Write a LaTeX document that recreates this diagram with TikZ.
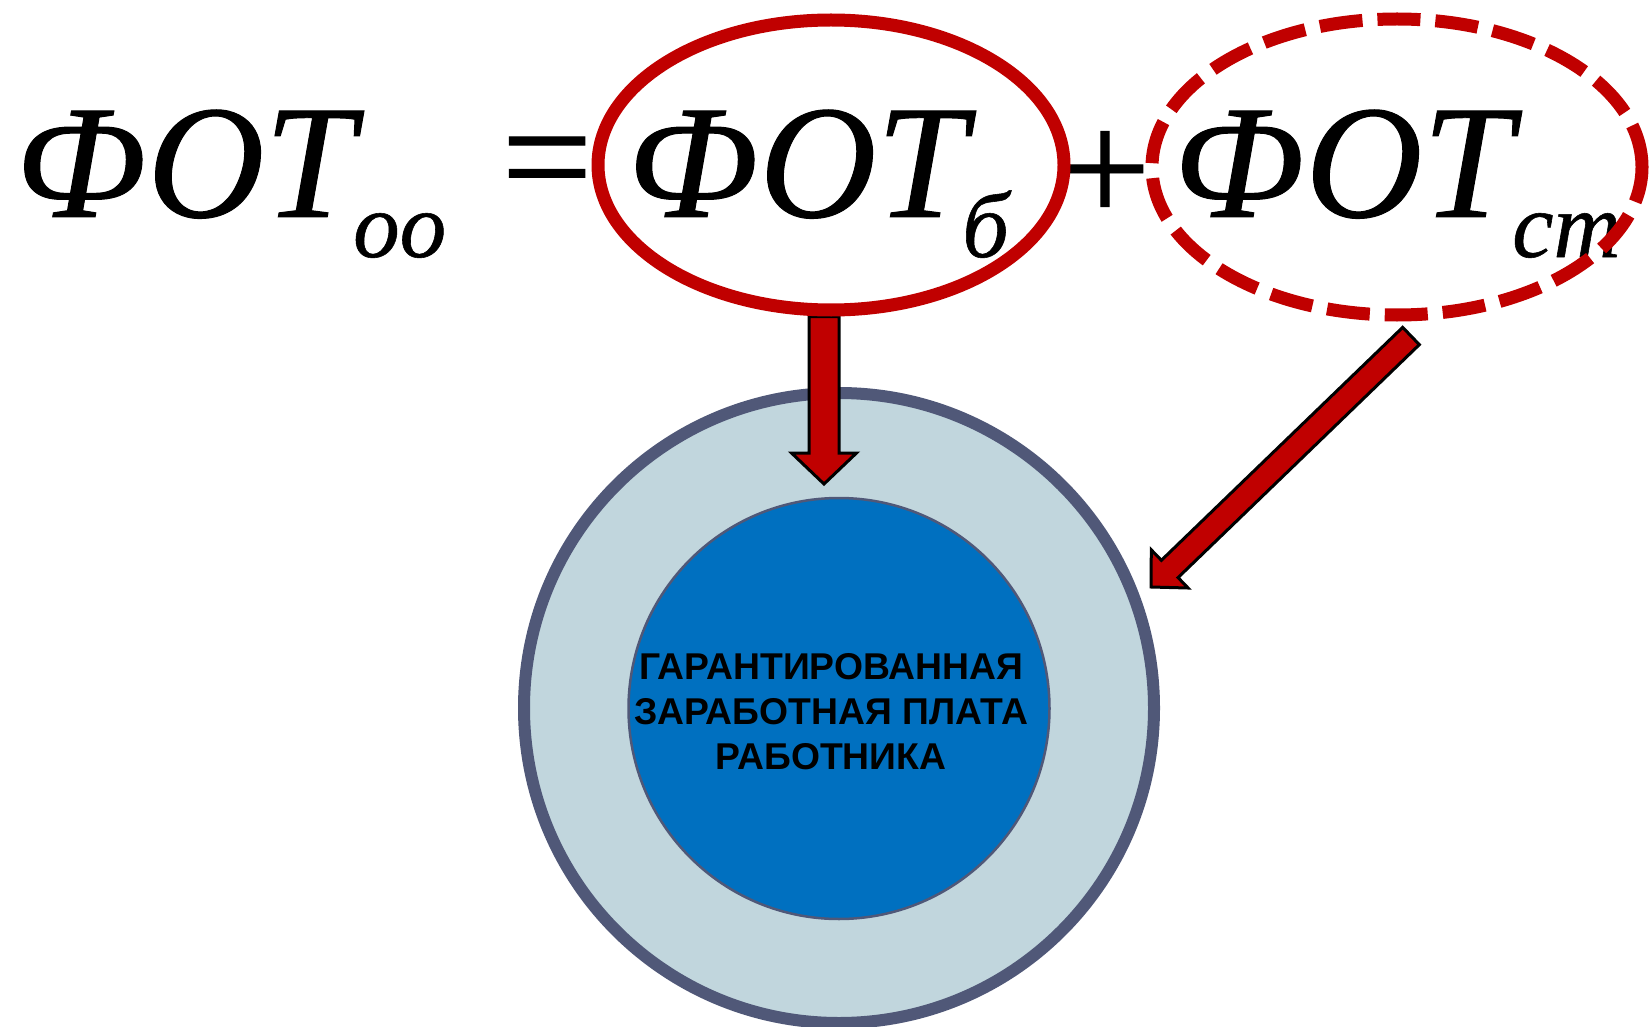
\documentclass[tikz,border=0pt]{standalone}
\usepackage{fontspec}
\setmainfont{Liberation Serif}
\newfontfamily\formulafont[FakeBold=0.6]{Liberation Serif}
\newfontfamily\capsfont{Liberation Sans}
\usetikzlibrary{shapes.geometric,calc}
\pgfdeclarelayer{front}
\pgfsetlayers{main,front}

\begin{document}
\begin{tikzpicture}[
  x=1pt, y=-1pt,
  every node/.style={inner sep=0pt},
  bigsym/.style={font=\formulafont\fontsize{162}{170}\selectfont\itshape, anchor=base west},
  smallsym/.style={font=\formulafont\fontsize{93}{100}\selectfont\itshape, anchor=base west},
  opsym/.style={font=\formulafont\fontsize{162}{170}\selectfont},
  ring/.style={ellipse, draw=ringred, line width=13pt},
  arrowbody/.style={fill=ringred, draw=black, line width=3pt, line join=miter},
]

\definecolor{ringred}{RGB}{192,0,0}
\definecolor{slate}{RGB}{80,88,120}
\definecolor{paleslate}{RGB}{193,214,221}
\definecolor{coreblue}{RGB}{0,112,192}

\useasboundingbox (0,0) rectangle (1649,1027);

% ============================================================
% CIRCLES
% ============================================================
\node[circle, draw=slate, fill=paleslate, line width=12pt,
      minimum size=630pt] (payouter) at (839,708) {};
\node[circle, draw=slate, fill=coreblue, line width=2.5pt,
      minimum size=421pt] (paycore) at (839,708.5) {};
\node[font=\capsfont\bfseries\fontsize{37.3}{45}\selectfont, align=center]
  (wage) at (831,712)
  {ГАРАНТИРОВАННАЯ\\ЗАРАБОТНАЯ ПЛАТА\\РАБОТНИКА};

% ============================================================
% FORMULA
% ============================================================
\node[bigsym]   (fotoo)    at (15,217)   {ФОТ};
\node[smallsym] (idxoo)    at (353,257)  {оо};
\node[opsym]    (eqsign)   at (547,174)  {=};
\node[bigsym]   (fotb)     at (627,217)  {ФОТ};
\node[smallsym] (idxb)     at (962,257)  {б};
\node[opsym]    (plussign) at (1105,177) {+};
\node[bigsym]   (fotst)    at (1173,217) {ФОТ};
\node[smallsym] (idxst)    at (1512,257) {ст};

% rings on top of everything
\begin{pgfonlayer}{front}
\node[ring, minimum width=466pt, minimum height=290pt]
  (fotbring) at (831,165) {};
\node[ring, dash pattern=on 43pt off 15pt,
      minimum width=490pt, minimum height=296pt]
  (fotstring) at (1397,167) {};
\end{pgfonlayer}

% ============================================================
% ARROWS
% ============================================================
\coordinate (btail)  at ([xshift=-7pt]fotbring.south);
\coordinate (btip)   at (824,484);
\coordinate (sttail) at (1411,336);
\coordinate (sttip)  at (1151,587);

% tail/tip/half shaft/half head/head length
\foreach \tl/\tp/\sh/\hh/\hl in {
  btail/btip/15pt/32.5pt/31pt,
  sttail/sttip/12pt/26.5pt/26pt}{
  \coordinate (\tl-neck) at ($(\tp)!\hl!(\tl)$);
  \draw[arrowbody]
    ($(\tl)!\sh!90:(\tp)$) -- ($(\tl-neck)!\sh!90:(\tp)$)
    -- ($(\tl-neck)!\hh!90:(\tp)$) -- (\tp)
    -- ($(\tl-neck)!\hh!-90:(\tp)$) -- ($(\tl-neck)!\sh!-90:(\tp)$)
    -- ($(\tl)!\sh!-90:(\tp)$) -- cycle;
}

\end{tikzpicture}
\end{document}
